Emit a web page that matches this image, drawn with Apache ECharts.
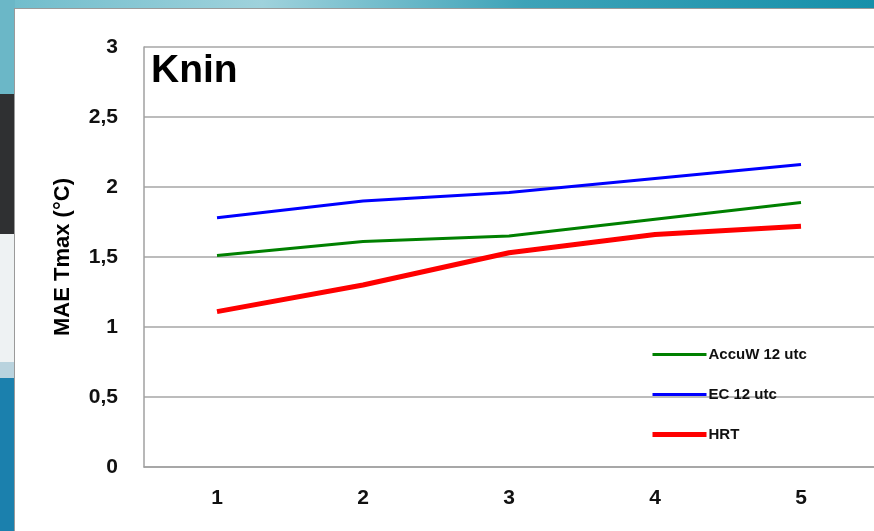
<!DOCTYPE html>
<html>
<head>
<meta charset="utf-8">
<script src="https://cdn.jsdelivr.net/npm/echarts@6/dist/echarts.min.js"></script>
<style>
  html, body { margin: 0; padding: 0; width: 874px; height: 531px; overflow: hidden; }
  body { position: relative; background: #1b80ad; }
  #topbar { position: absolute; left: 0; top: 0; width: 874px; height: 9px;
    background: linear-gradient(to right, #6fbccb, #9fd2dc 30%, #3ea3b8 60%, #1690aa); }
  #side1 { position: absolute; left: 0; top: 0; width: 15px; height: 94px; background: #6bb7c7; }
  #side2 { position: absolute; left: 0; top: 94px; width: 15px; height: 140px; background: #2f3032; }
  #side3 { position: absolute; left: 0; top: 234px; width: 15px; height: 128px; background: #eef2f3; }
  #side4 { position: absolute; left: 0; top: 362px; width: 15px; height: 16px; background: #b9d3de; }
  #panel { position: absolute; left: 14px; top: 8px; width: 860px; height: 523px;
    background: #fff; border-left: 1px solid #9a9a9a; border-top: 1px solid #9a9a9a; box-sizing: border-box; }
  #chart { position: absolute; left: 15px; top: 9px; width: 859px; height: 522px; }
</style>
</head>
<body>
<div id="topbar"></div>
<div id="side1"></div><div id="side2"></div><div id="side3"></div><div id="side4"></div>
<div id="panel"></div>
<div id="chart"></div>
<script>
(function() {
const days = ['1', '2', '3', '4', '5'];
const accuW = [1.51, 1.61, 1.65, 1.77, 1.89];
const ec = [1.78, 1.90, 1.96, 2.06, 2.16];
const hrt = [1.11, 1.30, 1.53, 1.66, 1.72];

const font = '"Liberation Sans", Arial, sans-serif';

const option = {
    animation: false,
    title: {
        text: 'Knin',
        left: 131,
        top: 38,
        textStyle: { fontFamily: font, fontSize: 39, fontWeight: 'bold', color: '#000' }
    },
    legend: {
        orient: 'vertical',
        left: 630,
        top: 333,
        itemWidth: 54,
        itemHeight: 14,
        itemGap: 25,
        itemStyle: { opacity: 0 },
        lineStyle: { width: 3 },
        textStyle: { fontFamily: font, fontSize: 15, fontWeight: 'bold', color: '#111', padding: [0, 0, 0, -3] },
        data: [
            { name: 'AccuW 12 utc', lineStyle: { width: 3, color: '#008000' } },
            { name: 'EC 12 utc', lineStyle: { width: 3, color: '#0000ff' } },
            { name: 'HRT', lineStyle: { width: 5, color: '#ff0000' } }
        ]
    },
    grid: { left: 129, top: 38, width: 730, height: 420 },
    xAxis: {
        type: 'category',
        data: days,
        axisLine: { lineStyle: { color: '#a0a0a0', width: 1.5 } },
        axisTick: { show: false },
        axisLabel: { fontFamily: font, fontSize: 21, fontWeight: 'bold', color: '#111', margin: 21 }
    },
    yAxis: {
        type: 'value',
        min: 0,
        max: 3,
        interval: 0.5,
        name: 'MAE Tmax (°C)',
        nameLocation: 'middle',
        nameGap: 70,
        nameTextStyle: { fontFamily: font, fontSize: 22, fontWeight: 'bold', color: '#000' },
        axisLine: { show: true, lineStyle: { color: '#a0a0a0', width: 1.5 } },
        axisTick: { show: false },
        axisLabel: {
            fontFamily: font, fontSize: 21, fontWeight: 'bold', color: '#111', margin: 26,
            formatter: v => String(v).replace('.', ',')
        },
        splitLine: { show: true, lineStyle: { color: '#a6a6a6', width: 1.5 } }
    },
    series: [
        { name: 'AccuW 12 utc', type: 'line', data: accuW, symbol: 'none',
          lineStyle: { color: '#008000', width: 3 }, itemStyle: { color: '#008000' } },
        { name: 'EC 12 utc', type: 'line', data: ec, symbol: 'none',
          lineStyle: { color: '#0000ff', width: 3 }, itemStyle: { color: '#0000ff' } },
        { name: 'HRT', type: 'line', data: hrt, symbol: 'none',
          lineStyle: { color: '#ff0000', width: 5 }, itemStyle: { color: '#ff0000' } }
    ]
};

const chart = echarts.init(document.getElementById('chart'));
chart.setOption(option);
window.addEventListener('resize', () => chart.resize());
})();
</script>
</body>
</html>
